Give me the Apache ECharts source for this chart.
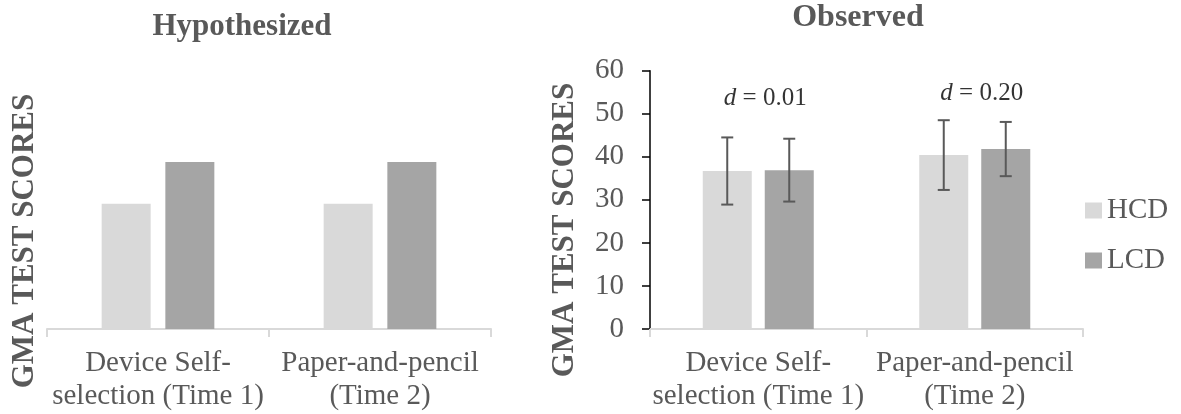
<!DOCTYPE html>
<html>
<head>
<meta charset="utf-8">
<script src="https://cdn.jsdelivr.net/npm/echarts@6/dist/echarts.min.js"></script>
<style>
html,body{margin:0;padding:0;background:#fff;}
#chart{width:1181px;height:414px;}
</style>
</head>
<body>
<div id="chart"></div>
<script>
// ---- data ----
const categories = ['Device Self-\nselection (Time 1)', 'Paper-and-pencil\n(Time 2)'];
const seriesNames = ['HCD', 'LCD'];
const hypHCD = [3, 3];
const hypLCD = [4, 4];
const obsHCD = [36.7, 40.4];
const obsLCD = [36.9, 41.8];
const obsHCDerr = [7.8, 8.1];
const obsLCDerr = [7.3, 6.3];
const effectLabels = ['0.01', '0.20'];
const effectY = [53.5, 54.8];
const obsYTicks = { min: 0, max: 60, interval: 10 };
const hypYRange = { min: 0, max: 6 };

// ---- style ----
const FONT = '"Liberation Serif", "Times New Roman", serif';
const TXT = '#595959';
const C_HCD = '#d9d9d9';
const C_LCD = '#a5a5a5';
const BAR_W = 49;
const BAR_GAP_PX = 13;

const chart = echarts.init(document.getElementById('chart'), null, { renderer: 'canvas' });

const xAxisCommon = {
  type: 'category',
  data: categories,
  axisLine: { show: true, lineStyle: { color: '#d9d9d9', width: 2 } },
  axisTick: { show: true, length: 8, lineStyle: { color: '#d9d9d9', width: 2 } },
  axisLabel: { fontFamily: FONT, fontSize: 29, color: TXT, lineHeight: 33, margin: 18, interval: 0 }
};

const errData = [];
for (let i = 0; i < categories.length; i++) {
  errData.push([i, obsHCD[i], obsHCDerr[i], 0]);
  errData.push([i, obsLCD[i], obsLCDerr[i], 1]);
}

const option = {
  animation: false,
  backgroundColor: '#fff',
  grid: [
    { left: 47, width: 444, top: 78.5, height: 250.5, containLabel: false },
    { left: 650, width: 433, top: 70.7, height: 258.3, containLabel: false }
  ],
  xAxis: [
    Object.assign({ gridIndex: 0 }, xAxisCommon),
    Object.assign({ gridIndex: 1 }, xAxisCommon)
  ],
  yAxis: [
    { gridIndex: 0, type: 'value', min: hypYRange.min, max: hypYRange.max, show: false, splitLine: { show: false } },
    {
      gridIndex: 1, type: 'value', min: obsYTicks.min, max: obsYTicks.max, interval: obsYTicks.interval,
      axisLine: { show: true, lineStyle: { color: '#000', width: 1.5 } },
      axisTick: { show: true, length: 8, lineStyle: { color: '#000', width: 1.5 } },
      axisLabel: { fontFamily: FONT, fontSize: 29, color: TXT, margin: 26 },
      splitLine: { show: false }
    }
  ],
  legend: {
    orient: 'vertical',
    left: 1085, top: 195.5, padding: 0,
    itemWidth: 17, itemHeight: 16, itemGap: 20,
    icon: 'rect',
    data: seriesNames,
    textStyle: { fontFamily: FONT, fontSize: 29, lineHeight: 30, color: TXT }
  },
  graphic: [
    { type: 'text', x: 242, y: 27, style: { text: 'Hypothesized', font: 'bold 31px ' + FONT, fill: TXT, textAlign: 'center', textVerticalAlign: 'middle' } },
    { type: 'text', x: 858, y: 18, style: { text: 'Observed', font: 'bold 32px ' + FONT, fill: TXT, textAlign: 'center', textVerticalAlign: 'middle' } },
    { type: 'text', x: 25, y: 241, rotation: Math.PI / 2, style: { text: 'GMA TEST SCORES', font: 'bold 31px ' + FONT, fill: TXT, textAlign: 'center', textVerticalAlign: 'middle' } },
    { type: 'text', x: 565, y: 230, rotation: Math.PI / 2, style: { text: 'GMA TEST SCORES', font: 'bold 31px ' + FONT, fill: TXT, textAlign: 'center', textVerticalAlign: 'middle' } }
  ],
  series: [
    { name: 'HCD', type: 'bar', xAxisIndex: 0, yAxisIndex: 0, data: hypHCD, barWidth: BAR_W, barGap: '30%', itemStyle: { color: C_HCD } },
    { name: 'LCD', type: 'bar', xAxisIndex: 0, yAxisIndex: 0, data: hypLCD, barWidth: BAR_W, barGap: '30%', itemStyle: { color: C_LCD } },
    { name: 'HCD', type: 'bar', xAxisIndex: 1, yAxisIndex: 1, data: obsHCD, barWidth: BAR_W, barGap: (BAR_GAP_PX / BAR_W * 100) + '%', itemStyle: { color: C_HCD } },
    { name: 'LCD', type: 'bar', xAxisIndex: 1, yAxisIndex: 1, data: obsLCD, barWidth: BAR_W, barGap: (BAR_GAP_PX / BAR_W * 100) + '%', itemStyle: { color: C_LCD } },
    {
      type: 'custom', name: 'err', xAxisIndex: 1, yAxisIndex: 1, z: 5,
      data: errData,
      encode: { x: 0, y: 1 },
      renderItem: function (params, api) {
        const c = api.value(0), m = api.value(1), e = api.value(2), s = api.value(3);
        const off = (BAR_W + BAR_GAP_PX) / 2;
        const x = api.coord([c, m])[0] + (s === 0 ? -off : off);
        const yt = api.coord([c, m + e])[1];
        const yb = api.coord([c, m - e])[1];
        const cap = 6;
        const st = { stroke: '#595959', lineWidth: 2 };
        return {
          type: 'group',
          children: [
            { type: 'line', shape: { x1: x, y1: yt, x2: x, y2: yb }, style: st },
            { type: 'line', shape: { x1: x - cap, y1: yt, x2: x + cap, y2: yt }, style: st },
            { type: 'line', shape: { x1: x - cap, y1: yb, x2: x + cap, y2: yb }, style: st }
          ]
        };
      }
    },
    {
      type: 'scatter', name: 'effect', xAxisIndex: 1, yAxisIndex: 1, symbolSize: 0, z: 6,
      data: effectY.map((v, i) => ({ value: [i, v], label: { formatter: '{i|d} = ' + effectLabels[i] } })),
      label: {
        show: true, position: 'inside', offset: [7, 0],
        fontFamily: FONT, fontSize: 25, color: '#000',
        rich: { i: { fontFamily: FONT, fontSize: 25, fontStyle: 'italic', color: '#000' } }
      },
      silent: true
    }
  ]
};
chart.setOption(option);
</script>
</body>
</html>
